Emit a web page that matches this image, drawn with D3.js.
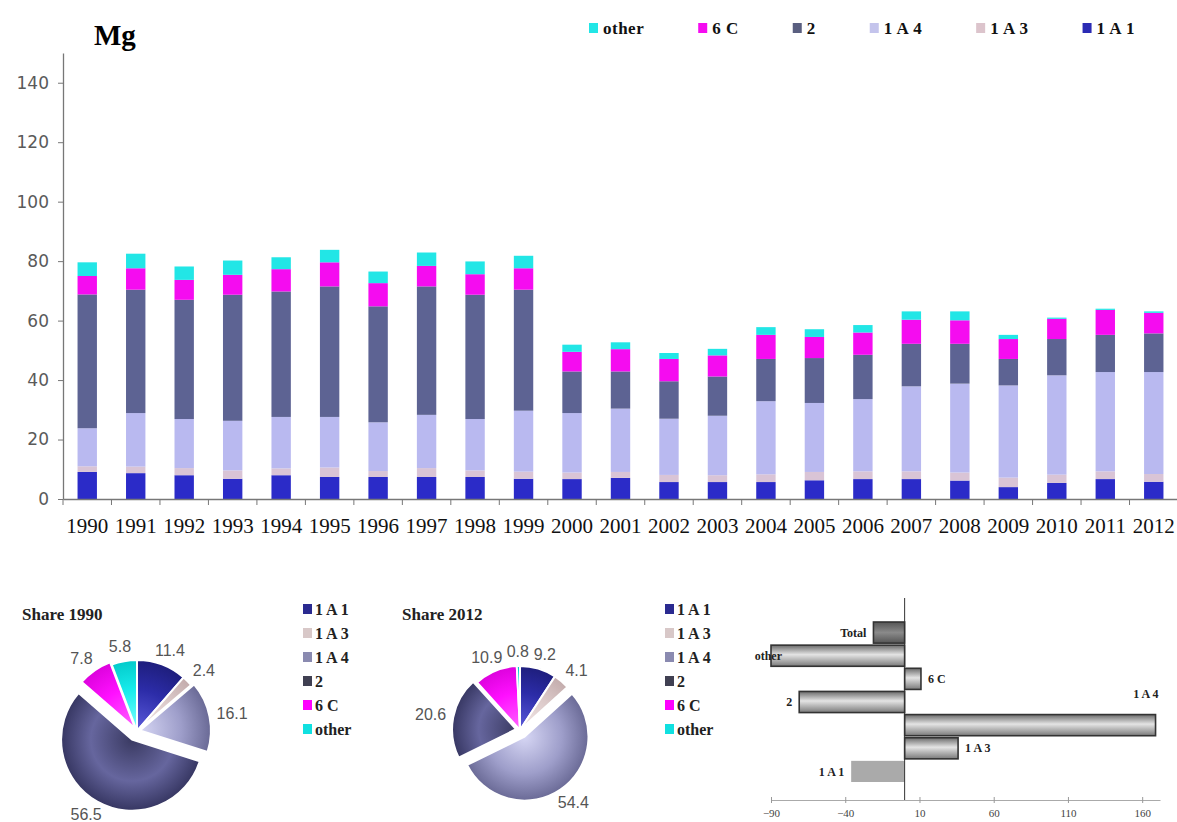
<!DOCTYPE html>
<html lang="en">
<head>
<meta charset="UTF-8">
<title>Mg emissions 1990-2012</title>
<style>
    body { margin: 0; background: #fff; }
    svg { display: block; }
</style>
</head>
<body>
<svg id="chart" width="1177" height="822"></svg>
<script src="https://d3js.org/d3.v7.min.js"></script>
<script>
// ---- data ----
const years = ["1990", "1991", "1992", "1993", "1994", "1995", "1996", "1997", "1998", "1999", "2000", "2001",
    "2002", "2003", "2004", "2005", "2006", "2007", "2008", "2009", "2010", "2011", "2012"];
const sources = ["1 A 1", "1 A 3", "1 A 4", "2", "6 C", "other"];

const v1A1 = [9.1, 8.7, 8.0, 6.8, 8.0, 7.4, 7.4, 7.4, 7.4, 6.8, 6.7, 7.1, 5.7, 5.7, 5.7, 6.3, 6.7, 6.7, 6.2, 4.0, 5.4, 6.7, 5.8];
const v1A3 = [1.9, 2.2, 2.4, 2.8, 2.3, 3.2, 2.0, 3.0, 2.2, 2.4, 2.2, 2.0, 2.4, 2.3, 2.6, 2.8, 2.6, 2.6, 2.7, 3.2, 2.8, 2.6, 2.6];
const v1A4 = [12.8, 18.0, 16.5, 16.7, 17.3, 17.0, 16.4, 17.9, 17.3, 20.5, 20.0, 21.3, 18.9, 20.0, 24.6, 23.2, 24.3, 28.6, 29.9, 31.0, 33.4, 33.4, 34.3];
const v2 = [45.0, 41.5, 40.1, 42.4, 42.2, 43.9, 39.0, 43.2, 41.8, 40.7, 14.0, 12.5, 12.6, 13.2, 14.2, 15.1, 14.9, 14.3, 13.4, 8.9, 12.2, 12.5, 13.0];
const v6C = [6.2, 7.2, 6.7, 6.7, 7.5, 8.1, 7.8, 6.9, 6.9, 7.2, 6.6, 7.5, 7.5, 7.1, 8.1, 7.1, 7.5, 8.1, 7.9, 6.7, 6.8, 8.4, 6.9];
const vOther = [4.6, 4.9, 4.5, 4.8, 4.0, 4.2, 3.9, 4.5, 4.3, 4.2, 2.4, 2.3, 2.0, 2.2, 2.6, 2.6, 2.5, 2.8, 3.0, 1.4, 0.4, 0.4, 0.5];

const yTicks = [0, 20, 40, 60, 80, 100, 120, 140];

const share1990 = [11.4, 2.4, 16.1, 56.5, 7.8, 5.8];
const share2012 = [9.2, 4.1, 54.4, 20.6, 10.9, 0.8];

const changeLabels = ["Total", "other", "6 C", "2", "1 A 4", "1 A 3", "1 A 1"];
const changeValues = [-21, -90, 11, -71, 169, 36, -36];
const changeTicks = [-90, -40, 10, 60, 110, 160];

// ---- setup ----
const svg = d3.select("#chart");
const serif = "'Liberation Serif', 'Times New Roman', serif";
const sans = "'DejaVu Sans', Verdana, sans-serif";

const barColor = {
    "1 A 1": "#2b2bc8", "1 A 3": "#d9c4d6", "1 A 4": "#b9b9f0",
    "2": "#5d6393", "6 C": "#f50cf0", "other": "#22e6e6"
};

// ---- stacked bars ----
{
    const rows = years.map((yr, i) => ({
        year: yr, "1 A 1": v1A1[i], "1 A 3": v1A3[i], "1 A 4": v1A4[i],
        "2": v2[i], "6 C": v6C[i], "other": vOther[i]
    }));
    const stacked = d3.stack().keys(sources)(rows);

    const x = d3.scaleBand().domain(years).range([63, 1178]).paddingInner(0.6).paddingOuter(0.3);
    const y = d3.scaleLinear().domain([0, 150]).range([499, 53]);

    svg.append("g")
        .selectAll("g")
        .data(stacked)
        .join("g")
        .attr("fill", d => barColor[d.key])
        .selectAll("rect")
        .data(d => d)
        .join("rect")
        .attr("x", d => x(d.data.year))
        .attr("y", d => y(d[1]))
        .attr("width", x.bandwidth())
        .attr("height", d => y(d[0]) - y(d[1]));

    // y axis
    const yAxis = svg.append("g")
        .attr("transform", "translate(63,0)")
        .call(d3.axisLeft(y).tickValues(yTicks).tickSize(5).tickSizeOuter(0).tickPadding(9));
    yAxis.select(".domain").attr("stroke", "#777").attr("stroke-width", 1.3);
    yAxis.selectAll(".tick line").attr("stroke", "#777");
    yAxis.selectAll("text")
        .attr("font-family", sans)
        .attr("font-size", 17)
        .attr("fill", "#5a5a5a");

    // x axis: labels at band centres, ticks between categories
    const xAxis = svg.append("g")
        .attr("transform", "translate(0,499)")
        .call(d3.axisBottom(x).tickSize(0).tickPadding(19));
    xAxis.select(".domain").attr("stroke", "#777").attr("stroke-width", 1.5);
    xAxis.selectAll("text")
        .attr("font-family", serif)
        .attr("font-size", 21)
        .attr("fill", "#111");
    const gap = (x.step() - x.bandwidth()) / 2;
    const edges = years.map(yr => x(yr) - gap);
    xAxis.selectAll(".edge")
        .data(edges)
        .join("line")
        .attr("class", "edge")
        .attr("x1", d => d).attr("x2", d => d)
        .attr("y1", 0).attr("y2", 6)
        .attr("stroke", "#777");

    // unit label
    svg.append("text")
        .attr("x", 94).attr("y", 45)
        .attr("font-family", serif)
        .attr("font-weight", "bold")
        .attr("font-size", 29)
        .text("Mg");

    // top legend
    const legendOrder = ["other", "6 C", "2", "1 A 4", "1 A 3", "1 A 1"];
    const legendSwatch = {
        "other": "#22e6e6", "6 C": "#f50cf0", "2": "#5a5f80",
        "1 A 4": "#c4c4ec", "1 A 3": "#dcc4cc", "1 A 1": "#2b2bb4"
    };
    let lx = 589;
    legendOrder.forEach(k => {
        svg.append("rect")
            .attr("x", lx).attr("y", 23)
            .attr("width", 9).attr("height", 10)
            .attr("fill", legendSwatch[k]);
        const t = svg.append("text")
            .attr("x", lx + 14).attr("y", 28)
            .attr("dy", "0.35em")
            .attr("font-family", serif)
            .attr("font-weight", "bold")
            .attr("font-size", 17)
            .attr("letter-spacing", 0.5)
            .attr("fill", "#111")
            .text(k);
        lx += 14 + t.node().getComputedTextLength() + 54;
    });
}

// ---- pies ----
const pieShade = {
    "1 A 1": ["#5c5cdc", "#2c2ca8", "#1c1c76"],
    "1 A 3": ["#f4eaea", "#dccaca", "#c0a8a8"],
    "1 A 4": ["#d6d6f4", "#9e9eca", "#62628e"],
    "2": ["#3a3a62", "#66669e", "#30305a"],
    "6 C": ["#ff66ff", "#ff10ff", "#d800d8"],
    "other": ["#80ffff", "#18ecec", "#00c6c6"]
};
const pieSwatch = {
    "1 A 1": "#2a2a90", "1 A 3": "#d8c8c8", "1 A 4": "#8a8ab0",
    "2": "#404052", "6 C": "#ff00ff", "other": "#10e0e0"
};

const defs = svg.append("defs");

const drawPie = (id, shares, cx, cy, r, explode, title, titleX, legendX) => {
    // gradients live in the pie group's own coordinates (origin at the pie centre)
    sources.forEach((k, i) => {
        const g = defs.append("radialGradient")
            .attr("id", `${id}-g${i}`)
            .attr("gradientUnits", "userSpaceOnUse")
            .attr("cx", 0).attr("cy", 0).attr("r", r + 4);
        g.append("stop").attr("offset", "0%").attr("stop-color", pieShade[k][0]);
        g.append("stop").attr("offset", "55%").attr("stop-color", pieShade[k][1]);
        g.append("stop").attr("offset", "100%").attr("stop-color", pieShade[k][2]);
    });

    const arcs = d3.pie().sort(null).value(d => d)(shares);
    const arc = d3.arc().innerRadius(0).outerRadius(r);
    const mid = d => (d.startAngle + d.endAngle) / 2;

    const g = svg.append("g").attr("transform", `translate(${cx},${cy})`);
    g.selectAll("path")
        .data(arcs)
        .join("path")
        .attr("d", arc)
        .attr("transform", (d, i) => `translate(${Math.sin(mid(d)) * explode[i]},${-Math.cos(mid(d)) * explode[i]})`)
        .attr("fill", (d, i) => `url(#${id}-g${i})`)
        .attr("stroke", "#fff")
        .attr("stroke-width", 2);

    g.selectAll("text")
        .data(arcs)
        .join("text")
        .attr("x", (d, i) => {
            const a = mid(d);
            return Math.sin(a) * (r + explode[i] + 8) + Math.sin(a) * 15;
        })
        .attr("y", (d, i) => {
            const a = mid(d);
            return -Math.cos(a) * (r + explode[i] + 8) - Math.cos(a) * 7;
        })
        .attr("dy", "0.35em")
        .attr("text-anchor", "middle")
        .attr("font-family", "'Liberation Sans', Arial, sans-serif")
        .attr("font-size", 16)
        .attr("fill", "#555")
        .text(d => d.data.toFixed(1));

    svg.append("text")
        .attr("x", titleX).attr("y", 620)
        .attr("font-family", serif)
        .attr("font-weight", "bold")
        .attr("font-size", 17)
        .attr("fill", "#222")
        .text(title);

    const leg = svg.append("g");
    sources.forEach((k, i) => {
        const yy = 609 + i * 24;
        leg.append("rect")
            .attr("x", legendX).attr("y", yy - 5)
            .attr("width", 9).attr("height", 10)
            .attr("fill", pieSwatch[k]);
        leg.append("text")
            .attr("x", legendX + 12).attr("y", yy)
            .attr("dy", "0.35em")
            .attr("font-family", serif)
            .attr("font-weight", "bold")
            .attr("font-size", 16)
            .attr("fill", "#222")
            .text(k);
    });
};

drawPie("p90", share1990, 137, 731, 71, [0, 0, 3, 10, 3, 0], "Share 1990", 22, 303);
drawPie("p12", share2012, 520, 730, 64, [0, 0, 8, 4, 0, 0], "Share 2012", 402, 665);

// ---- change 1990-2012 bars ----
{
    const cx = d3.scaleLinear().domain([-90, 172]).range([771, 1160]);
    const cy = d3.scaleBand().domain(changeLabels).range([621, 783]).padding(0);

    const grad = defs.append("linearGradient")
        .attr("id", "cyl").attr("x1", 0).attr("y1", 0).attr("x2", 0).attr("y2", 1);
    grad.append("stop").attr("offset", "0%").attr("stop-color", "#6a6a6a");
    grad.append("stop").attr("offset", "45%").attr("stop-color", "#e4e4e4");
    grad.append("stop").attr("offset", "100%").attr("stop-color", "#7a7a7a");
    const gradDark = defs.append("linearGradient")
        .attr("id", "cylDark").attr("x1", 0).attr("y1", 0).attr("x2", 0).attr("y2", 1);
    gradDark.append("stop").attr("offset", "0%").attr("stop-color", "#555");
    gradDark.append("stop").attr("offset", "50%").attr("stop-color", "#8a8a8a");
    gradDark.append("stop").attr("offset", "100%").attr("stop-color", "#555");

    const rows = changeLabels.map((k, i) => ({ key: k, value: changeValues[i] }));

    svg.append("g")
        .selectAll("rect")
        .data(rows)
        .join("rect")
        .attr("x", d => cx(Math.min(0, d.value)))
        .attr("y", d => cy(d.key) + 1)
        .attr("width", d => Math.abs(cx(d.value) - cx(0)))
        .attr("height", cy.bandwidth() - 2)
        .attr("fill", d => d.key === "Total" ? "url(#cylDark)" : d.key === "1 A 1" ? "#aaaaaa" : "url(#cyl)")
        .attr("stroke", d => d.key === "1 A 1" ? "none" : "#333")
        .attr("stroke-width", 1.6);

    // zero line
    svg.append("line")
        .attr("x1", cx(0)).attr("x2", cx(0))
        .attr("y1", 598).attr("y2", 800)
        .attr("stroke", "#333");

    const axis = svg.append("g")
        .attr("transform", "translate(0,800)")
        .call(d3.axisBottom(cx).tickValues(changeTicks).tickSize(3).tickSizeOuter(0).tickPadding(6));
    axis.select(".domain").attr("stroke", "#aaa").attr("stroke-width", 1.2);
    axis.selectAll(".tick line").attr("stroke", "#999").attr("y1", -3);
    axis.selectAll("text")
        .attr("font-family", serif)
        .attr("font-size", 11)
        .attr("fill", "#444");

    svg.append("g")
        .selectAll("text")
        .data(rows)
        .join("text")
        .each(function (d) {
            const t = d3.select(this);
            const mid = cy(d.key) + cy.bandwidth() / 2;
            if (d.value < 0) {
                t.attr("x", Math.max(cx(d.value) - 7, 782)).attr("y", mid).attr("text-anchor", "end");
            } else if (cx(d.value) + 40 > 1177) {
                t.attr("x", cx(d.value) + 3).attr("y", cy(d.key) - 20).attr("text-anchor", "end");
            } else {
                t.attr("x", cx(d.value) + 7).attr("y", mid).attr("text-anchor", "start");
            }
        })
        .attr("dy", "0.35em")
        .attr("font-family", serif)
        .attr("font-weight", "bold")
        .attr("font-size", 12)
        .attr("fill", "#222")
        .text(d => d.key);
}
</script>
</body>
</html>
